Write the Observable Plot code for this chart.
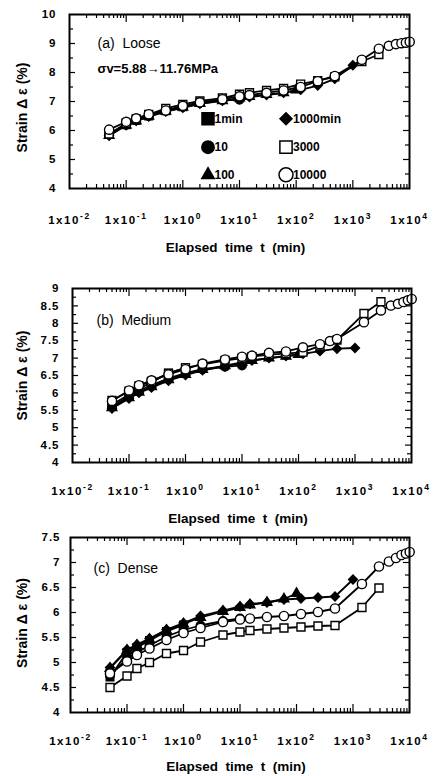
<!DOCTYPE html>
<html><head><meta charset="utf-8">
<script src="https://cdn.jsdelivr.net/npm/d3@7"></script>
<script src="https://cdn.jsdelivr.net/npm/@observablehq/plot@0.6"></script>
<style>
body{margin:0;background:#fff;width:442px;}
#chart svg{display:block;}
#chart text{white-space:pre;}
</style></head><body><div id="chart"></div>
<script>
// ---- axis ticks ----
const xExponents = [-2, -1, 0, 1, 2, 3, 4];
const yTicksA = [4, 5, 6, 7, 8, 9, 10];
const yTicksB = [4, 4.5, 5, 5.5, 6, 6.5, 7, 7.5, 8, 8.5, 9];
const yTicksC = [4, 4.5, 5, 5.5, 6, 6.5, 7, 7.5];

// ---- series (test durations) ----
const seriesNames = ["1min", "10", "100", "1000min", "3000", "10000"];

// ---- elapsed times (min) ----
const t1 = [0.05, 0.1, 0.15, 0.25, 0.5, 1];
const t10 = [0.05, 0.1, 0.15, 0.25, 0.5, 1, 2, 5, 10];
const t100 = [0.05, 0.1, 0.15, 0.25, 0.5, 1, 2, 5, 10, 15, 30, 60, 100];
const t1000 = [0.05, 0.1, 0.15, 0.25, 0.5, 1, 2, 5, 10, 15, 30, 60, 120, 240, 480, 1000];
const t3000 = [0.05, 0.1, 0.15, 0.25, 0.5, 1, 2, 5, 10, 15, 30, 60, 120, 240, 480, 1440, 2880];
const t10000 = [0.05, 0.1, 0.15, 0.25, 0.5, 1, 2, 5, 10, 15, 30, 60, 120, 240, 480, 1440, 2880, 4320, 5760, 7200, 8640, 10080];
const t10000b = [0.05, 0.1, 0.15, 0.25, 0.5, 1, 2, 5, 10, 15, 30, 60, 120, 240, 360, 480, 1440, 2880, 4320, 5760, 7200, 8640, 10080];

// ---- (a) Loose: strain (%) ----
const a1 = [5.86, 6.2, 6.35, 6.5, 6.68, 6.82];
const a10 = [5.86, 6.2, 6.35, 6.5, 6.68, 6.82, 6.95, 7.05, 7.06];
const a100 = [5.83, 6.18, 6.33, 6.49, 6.66, 6.8, 6.93, 7.03, 7.12, 7.17, 7.24, 7.3, 7.4];
const a1000 = [5.82, 6.18, 6.33, 6.48, 6.65, 6.78, 6.92, 7.02, 7.08, 7.15, 7.22, 7.3, 7.4, 7.55, 7.78, 8.25];
const a3000 = [5.88, 6.25, 6.4, 6.55, 6.76, 6.9, 7.02, 7.12, 7.25, 7.3, 7.38, 7.45, 7.6, 7.72, 7.85, 8.38, 8.62];
const a10000 = [6.03, 6.3, 6.42, 6.56, 6.69, 6.85, 6.97, 7.08, 7.18, 7.22, 7.3, 7.38, 7.5, 7.7, 7.88, 8.44, 8.82, 8.92, 8.98, 9.01, 9.03, 9.06];

// ---- (b) Medium ----
const b1 = [5.66, 5.95, 6.12, 6.3, 6.57, 6.72];
const b10 = [5.6, 5.9, 6.07, 6.22, 6.42, 6.57, 6.68, 6.75, 6.79];
const b100 = [5.57, 5.86, 6.02, 6.18, 6.38, 6.53, 6.67, 6.78, 6.88, 6.93, 7.0, 7.05, 7.1];
const b1000 = [5.55, 5.84, 6.0, 6.15, 6.35, 6.51, 6.65, 6.76, 6.86, 6.93, 7.0, 7.06, 7.12, 7.2, 7.27, 7.29];
const b3000 = [5.78, 6.05, 6.2, 6.33, 6.56, 6.72, 6.82, 6.93, 7.0, 7.04, 7.1, 7.13, 7.17, 7.35, 7.52, 8.28, 8.62];
const b10000 = [5.77, 6.07, 6.22, 6.36, 6.53, 6.68, 6.84, 6.96, 7.04, 7.07, 7.15, 7.19, 7.31, 7.4, 7.49, 7.55, 8.03, 8.37, 8.51, 8.56, 8.61, 8.66, 8.7];

// ---- (c) Dense ----
const c1 = [4.71, 5.2, 5.3, 5.44, 5.62, 5.75];
const c10 = [4.74, 5.08, 5.2, 5.34, 5.52, 5.65, 5.74, 5.83, 5.88];
const c100 = [4.88, 5.24, 5.34, 5.46, 5.64, 5.77, 5.9, 6.02, 6.1, 6.15, 6.2, 6.27, 6.38];
const c1000 = [4.9, 5.26, 5.36, 5.48, 5.66, 5.79, 5.93, 6.04, 6.12, 6.17, 6.2, 6.26, 6.28, 6.3, 6.32, 6.66];
const c3000 = [4.5, 4.73, 4.88, 5.0, 5.18, 5.24, 5.41, 5.55, 5.61, 5.64, 5.67, 5.69, 5.71, 5.73, 5.74, 6.1, 6.49];
const c10000 = [4.78, 5.02, 5.15, 5.28, 5.45, 5.59, 5.69, 5.81, 5.86, 5.88, 5.91, 5.93, 5.97, 6.01, 6.08, 6.57, 6.92, 7.02, 7.09, 7.15, 7.18, 7.21];

// ---- styling ----
const FONT = "'Liberation Sans', Arial, Helvetica, sans-serif";
const markerStyle = {
  "1min":    {symbol: "square",   r: 4.3, fill: "black"},
  "10":      {symbol: "circle",   r: 4.3, fill: "black"},
  "100":     {symbol: "triangle", r: 3.6, fill: "black"},
  "1000min": {symbol: "diamond2", r: 4.0, fill: "black"},
  "3000":    {symbol: "square",   r: 4.5, fill: "white"},
  "10000":   {symbol: "circle",   r: 4.6, fill: "white"}
};
const legendStyle = {
  "1min":    {r: 6.8, col: 0, row: 0},
  "10":      {r: 6.2, col: 0, row: 1},
  "100":     {r: 4.6, col: 0, row: 2},
  "1000min": {r: 5.4, col: 1, row: 0},
  "3000":    {r: 6.9, col: 1, row: 1},
  "10000":   {r: 7.0, col: 1, row: 2}
};

function rowsOf(times, vals) { return times.map((t, i) => ({t, v: vals[i]})); }

function makePanel(cfg) {
  const W = 442;
  const {height, mt, mb, ml, mr, yDomain, yTicks, yMinorStep, series} = cfg;
  const fw = W - ml - mr, fh = height - mt - mb;
  const xDec = xExponents.map(e => 10 ** e);
  const xMajor = xDec.slice(1, -1);
  const xMinor = [];
  xExponents.slice(0, -1).forEach(e => { for (let k = 2; k <= 9; k++) xMinor.push(k * 10 ** e); });
  const yMinor = d3.range(yDomain[0], yDomain[1] + 1e-9, yMinorStep)
    .filter(v => !yTicks.some(t => Math.abs(t - v) < 1e-9));
  const yMajorInner = yTicks.filter(v => v > yDomain[0] && v < yDomain[1]);
  const tk = {stroke: "black", strokeWidth: 1.2};

  const marks = [
    Plot.ruleX(xMajor, {x: d => d, insetTop: fh - 8, ...tk}),
    Plot.ruleX(xMajor, {x: d => d, insetBottom: fh - 8, ...tk}),
    Plot.ruleX(xMinor, {x: d => d, insetTop: fh - 4, ...tk}),
    Plot.ruleX(xMinor, {x: d => d, insetBottom: fh - 4, ...tk}),
    Plot.ruleY(yMajorInner, {y: d => d, insetRight: fw - 6, ...tk}),
    Plot.ruleY(yMajorInner, {y: d => d, insetLeft: fw - 6, ...tk}),
    Plot.ruleY(yMinor, {y: d => d, insetRight: fw - 4, ...tk}),
    Plot.ruleY(yMinor, {y: d => d, insetLeft: fw - 4, ...tk})
  ];

  series.forEach(([name, times, vals]) => {
    const rows = rowsOf(times, vals);
    const st = markerStyle[name];
    marks.push(Plot.line(rows, {x: "t", y: "v", stroke: "black", strokeWidth: 1.8}));
    marks.push(Plot.dot(rows, {x: "t", y: "v", symbol: st.symbol, r: st.r, fill: st.fill, stroke: "black", strokeWidth: 1.4}));
  });

  marks.push(Plot.frame({stroke: "black", strokeWidth: 2}));

  marks.push(Plot.axisX({ticks: xDec, anchor: "bottom", tickSize: 0, tickPadding: cfg.xPad,
    tickFormat: d => "1x10^" + Math.round(Math.log10(d)), label: null, fontSize: 11.5, fontWeight: "bold"}));
  marks.push(Plot.axisY({ticks: yTicks, anchor: "left", tickSize: 0, tickPadding: cfg.yPad,
    tickFormat: d => String(d), label: null, fontSize: 11.5, fontWeight: "bold"}));

  marks.push(Plot.text(["Elapsed  time  t  (min)"], {text: d => d, frameAnchor: "bottom", dx: -4, dy: cfg.titleDy,
    textAnchor: "middle", lineAnchor: "middle", fontSize: 13.5, fontWeight: "bold", ariaLabel: "xtitle"}));
  marks.push(Plot.text(["Strain Δ ε (%)"], {text: d => d, frameAnchor: "left", rotate: -90, dx: 22 - ml, dy: cfg.yLabelDy,
    textAnchor: "middle", lineAnchor: "middle", fontSize: 14, fontWeight: "bold", ariaLabel: "ytitle"}));

  cfg.notes.forEach(n => {
    marks.push(Plot.text([n.text], {text: d => d, frameAnchor: "top-left", dx: n.dx, dy: n.dy, textAnchor: "start",
      lineAnchor: "middle", fontSize: n.size, fontWeight: n.weight, ariaLabel: n.aria}));
  });

  if (cfg.legend) {
    seriesNames.forEach(name => {
      const st = markerStyle[name], lg = legendStyle[name];
      const sx = lg.col === 0 ? 138.5 : 216.5;
      const sy = [104.3, 132.7, 160.3][lg.row];
      marks.push(Plot.dot([name], {frameAnchor: "top-left", dx: sx, dy: sy, symbol: st.symbol, r: lg.r,
        fill: st.fill, stroke: "black", strokeWidth: 1.5}));
      marks.push(Plot.text([name], {text: d => d, frameAnchor: "top-left", dx: sx + (lg.col === 0 ? 6.5 : 7), dy: sy,
        textAnchor: "start", lineAnchor: "middle", fontSize: 12, fontWeight: "bold", ariaLabel: "legend"}));
    });
  }

  const svg = Plot.plot({
    width: W, height, marginTop: mt, marginBottom: mb, marginLeft: ml, marginRight: mr,
    x: {type: "log", domain: [1e-2, 1e4]},
    y: {domain: yDomain},
    style: {fontFamily: FONT, fontWeight: "bold", color: "black", background: "white", overflow: "visible"},
    marks
  });

  const s = d3.select(svg);
  s.selectAll("g[aria-label='x-axis tick label'] text").each(function () {
    const m = this.textContent.match(/^1x10\^(-?\d+)$/);
    if (!m) return;
    this.textContent = "1x10";
    d3.select(this).append("tspan").attr("dy", "-0.5em").attr("font-size", "8.5px").text(m[1]);
  }).style("letter-spacing", "1.6px").attr("fill", "black");
  s.selectAll("g[aria-label='y-axis tick label'] text").style("letter-spacing", "1px").attr("fill", "black");
  s.selectAll("g[aria-label='xtitle'] text").style("letter-spacing", "1.5px");
  s.selectAll("g[aria-label='ytitle'] text").style("letter-spacing", "1.5px").style("word-spacing", "3px");
  s.selectAll("g[aria-label='legend'] text").style("letter-spacing", "1.8px");
  s.selectAll("g[aria-label='plabel'] text").style("letter-spacing", "1.3px");
  s.selectAll("g[aria-label='sigma'] text").style("letter-spacing", "2.2px");
  return svg;
}

const chart = document.getElementById("chart");

chart.appendChild(makePanel({
  height: 262, mt: 14, mb: 74, ml: 69, mr: 33, yDomain: [4, 10], yTicks: yTicksA, yMinorStep: 0.5,
  xPad: 27, yPad: 13, titleDy: 59, yLabelDy: 6, legend: true,
  notes: [
    {text: "(a)  Loose", dx: 28, dy: 29, size: 14, weight: "normal", aria: "plabel"},
    {text: "σv=5.88→11.76MPa", dx: 28, dy: 54, size: 13, weight: "bold", aria: "sigma"}
  ],
  series: [["1min", t1, a1], ["10", t10, a10], ["100", t100, a100], ["1000min", t1000, a1000], ["3000", t3000, a3000], ["10000", t10000, a10000]]
}));

chart.appendChild(makePanel({
  height: 265, mt: 26, mb: 65, ml: 72, mr: 31, yDomain: [4, 9], yTicks: yTicksB, yMinorStep: 0.25,
  xPad: 24, yPad: 13, titleDy: 56, yLabelDy: 0, legend: false,
  notes: [{text: "(b)  Medium", dx: 24, dy: 32, size: 14, weight: "normal", aria: "plabel"}],
  series: [["1min", t1, b1], ["10", t10, b10], ["100", t100, b100], ["1000min", t1000, b1000], ["3000", t3000, b3000], ["10000", t10000b, b10000]]
}));

chart.appendChild(makePanel({
  height: 249, mt: 10, mb: 64, ml: 70, mr: 33, yDomain: [4, 7.5], yTicks: yTicksC, yMinorStep: 0.25,
  xPad: 24, yPad: 10, titleDy: 54, yLabelDy: -2, legend: false,
  notes: [{text: "(c)  Dense", dx: 23, dy: 31, size: 14, weight: "normal", aria: "plabel"}],
  series: [["1min", t1, c1], ["10", t10, c10], ["100", t100, c100], ["1000min", t1000, c1000], ["3000", t3000, c3000], ["10000", t10000, c10000]]
}));
</script></body></html>
